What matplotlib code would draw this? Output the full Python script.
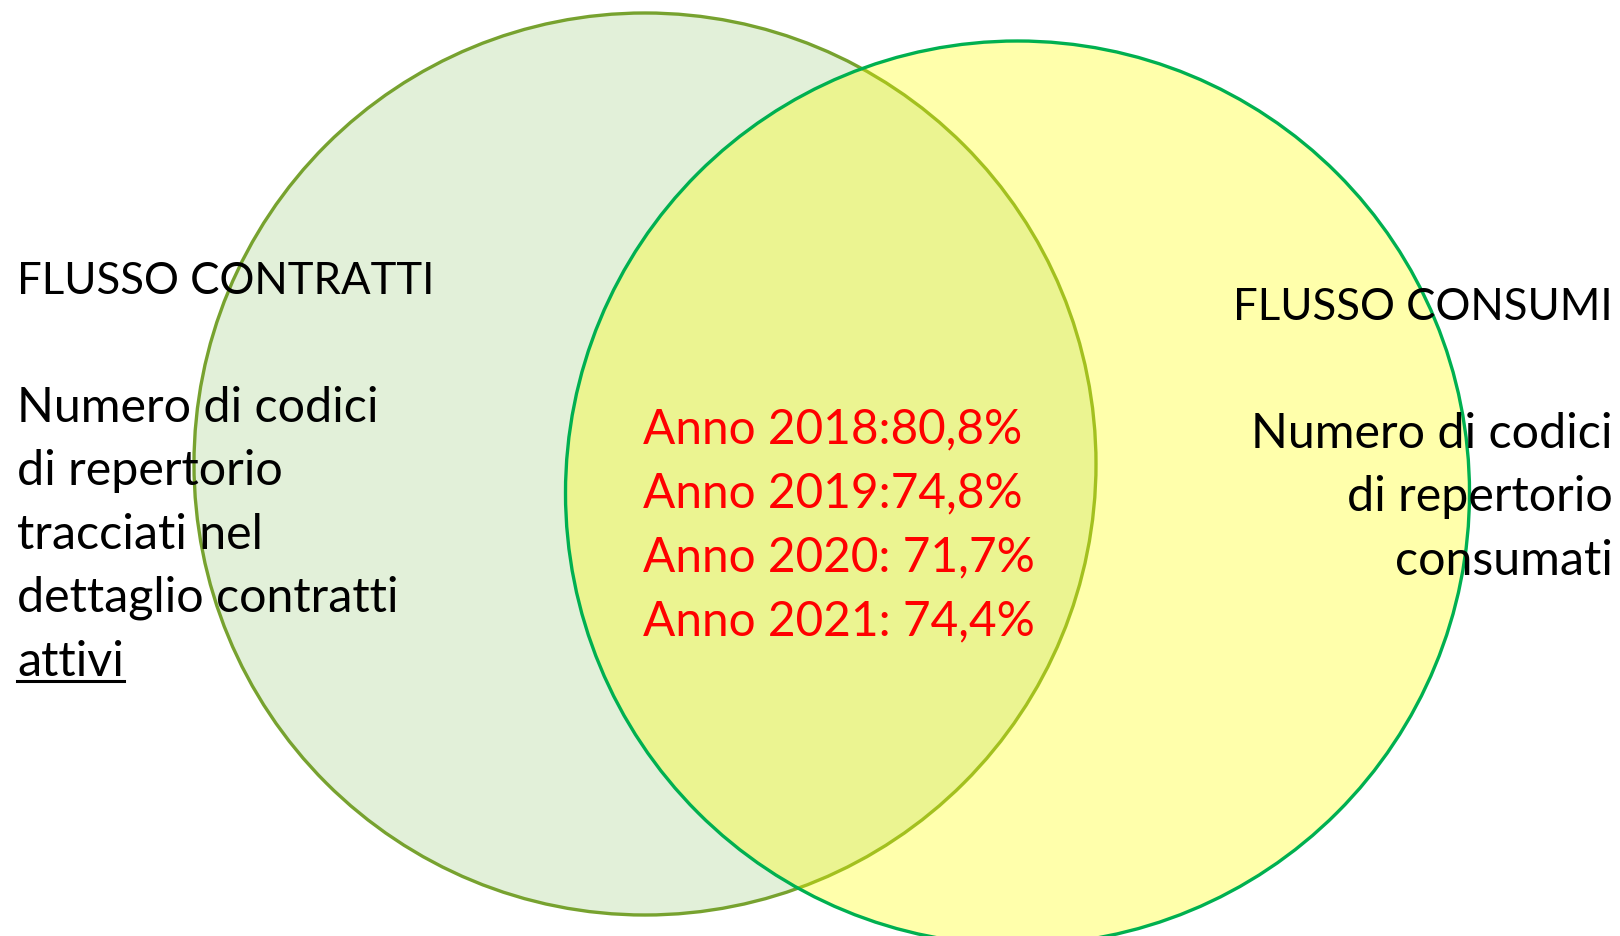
import matplotlib
matplotlib.use("Agg")
import matplotlib.pyplot as plt
from matplotlib.patches import Circle
from matplotlib.lines import Line2D

# text content
left_title = "FLUSSO CONTRATTI"
left_lines = ["Numero di codici", "di repertorio", "tracciati nel", "dettaglio contratti"]
left_underlined = "attivi"
right_title = "FLUSSO CONSUMI"
right_lines = ["Numero di codici", "di repertorio", "consumati"]
years = [2018, 2019, 2020, 2021]
shares = [80.8, 74.8, 71.7, 74.4]
separators = [":", ":", ": ", ": "]

W, H = 1620, 937
fig = plt.figure(figsize=(W / 100, H / 100), dpi=100)
ax = fig.add_axes([0, 0, 1, 1])
ax.set_xlim(0, W)
ax.set_ylim(H, 0)
ax.set_aspect("equal")
ax.axis("off")

FONT = "Lato"
FS_TITLE = 31.5
FS_BODY = 34.8
FS_RED = 34.4

# circles
left = Circle((645, 465), 451, facecolor="#E2F0D9", edgecolor="#77A22F",
              linewidth=2.4, zorder=1)
right = Circle((1017.5, 494), 452, facecolor=(1, 1, 0, 0.33), edgecolor="#00B050",
               linewidth=2.4, zorder=2)
ax.add_patch(left)
ax.add_patch(right)

step = 63.4

# left block
ax.text(17, 282, left_title, fontsize=FS_TITLE, family=FONT, va="center", ha="left", zorder=5)
for i, s in enumerate(left_lines):
    ax.text(17, 408 + i * step, s, fontsize=FS_BODY, family=FONT, va="center", ha="left", zorder=5)
t_att = ax.text(17, 408 + len(left_lines) * step, left_underlined, fontsize=FS_BODY, family=FONT,
                va="center", ha="left", zorder=5)

# right block
ax.text(1613, 308, right_title, fontsize=FS_TITLE, family=FONT, va="center", ha="right", zorder=5)
for i, s in enumerate(right_lines):
    ax.text(1613, 434 + i * step, s, fontsize=FS_BODY, family=FONT, va="center", ha="right", zorder=5)

# centre block
for i, (y, v, sep) in enumerate(zip(years, shares, separators)):
    label = f"Anno {y}{sep}{v:.1f}%".replace(".", ",")
    ax.text(643, 429 + i * 64, label, fontsize=FS_RED, family=FONT, color="red",
            va="center", ha="left", zorder=5)

# underline "attivi"
fig.canvas.draw()
bb = t_att.get_window_extent()
inv = ax.transData.inverted()
(x0, y0), (x1, y1) = inv.transform([(bb.x0, bb.y0), (bb.x1, bb.y0)])
ax.add_line(Line2D([x0, x1], [y0 - 2, y1 - 2], color="black", linewidth=2.2, zorder=5))

fig.savefig("out.png", dpi=100)
